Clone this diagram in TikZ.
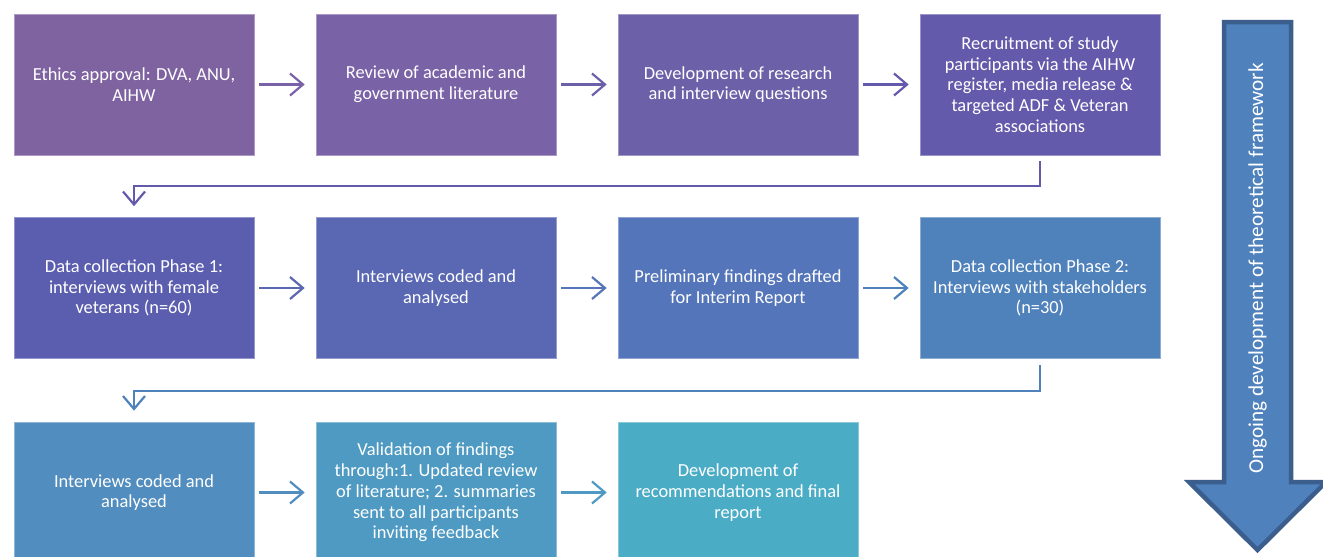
\documentclass[tikz,border=0pt]{standalone}
\usepackage{fontspec}
\setmainfont{Carlito}
\usetikzlibrary{arrows.meta}
\definecolor{cA}{HTML}{7F63A1}
\definecolor{cB}{HTML}{7A62A6}
\definecolor{cC}{HTML}{6C60A8}
\definecolor{cD}{HTML}{645AAB}
\definecolor{cE}{HTML}{5B5EAF}
\definecolor{cF}{HTML}{5A67B2}
\definecolor{cG}{HTML}{5475BA}
\definecolor{cH}{HTML}{4F81BB}
\definecolor{cI}{HTML}{518DBE}
\definecolor{cJ}{HTML}{4E9AC2}
\definecolor{cK}{HTML}{4BACC6}
\definecolor{bigfill}{HTML}{4F81BD}
\definecolor{bigline}{HTML}{3B5E8C}
\tikzset{
  stepbox/.style={rectangle, minimum width=240pt, minimum height=141pt, inner sep=0pt,
    text=white, align=center, font=\fontsize{18.4}{20.7}\selectfont, draw=white!35!#1, line width=0.6pt, fill=#1},
  conn/.style={draw=#1, line width=2.2pt, -{Straight Barb[length=13pt,width=22pt]}},
}
\begin{document}
\begin{tikzpicture}[x=1pt,y=-1pt]
\path[use as bounding box, clip] (0,0) rectangle (1323,557);
\fill[white] (0,0) rectangle (1323,557);
% row 1
\node[stepbox=cA] (b1) at (134,84.5) {Ethics approval: DVA, ANU,\\AIHW};
\node[stepbox=cB] (b2) at (436,84.5) {Review of academic and\\government literature};
\node[stepbox=cC] (b3) at (738,84.5) {Development of research\\and interview questions};
\node[stepbox=cD] (b4) at (1040,84.5) {Recruitment of study\\participants via the AIHW\\register, media release \&\\targeted ADF \& Veteran\\associations};
% row 2
\node[stepbox=cE] (b5) at (134,288) {Data collection Phase 1:\\interviews with female\\veterans (n=60)};
\node[stepbox=cF] (b6) at (436,288) {Interviews coded and\\analysed};
\node[stepbox=cG] (b7) at (738,288) {Preliminary findings drafted\\for Interim Report};
\node[stepbox=cH] (b8) at (1040,288) {Data collection Phase 2:\\Interviews with stakeholders\\(n=30)};
% row 3
\node[stepbox=cI] (b9) at (134,492.5) {Interviews coded and\\analysed};
\node[stepbox=cJ] (b10) at (436,492.5) {Validation of findings\\through:1. Updated review\\of literature; 2. summaries\\sent to all participants\\inviting feedback};
\node[stepbox=cK] (b11) at (738,492.5) {Development of\\recommendations and final\\report};
% horizontal arrows
\draw[conn=cB] ([xshift=5pt]b1.east) -- ([xshift=-11pt]b2.west);
\draw[conn=cC] ([xshift=5pt]b2.east) -- ([xshift=-11pt]b3.west);
\draw[conn=cD] ([xshift=5pt]b3.east) -- ([xshift=-11pt]b4.west);
\draw[conn=cF] ([xshift=5pt]b5.east) -- ([xshift=-11pt]b6.west);
\draw[conn=cG] ([xshift=5pt]b6.east) -- ([xshift=-11pt]b7.west);
\draw[conn=cH] ([xshift=5pt]b7.east) -- ([xshift=-11pt]b8.west);
\draw[conn=cI] ([xshift=5pt]b9.east) -- ([xshift=-11pt]b10.west);
\draw[conn=cJ] ([xshift=5pt]b10.east) -- ([xshift=-11pt]b11.west);
% row connectors
\draw[conn=cD] ([yshift=-6pt]b4.south) -- ([yshift=-31pt]b4.south) -| ([yshift=11pt]b5.north);
\draw[conn=cH] ([yshift=-6pt]b8.south) -- ([yshift=-32pt]b8.south) -| ([yshift=11pt]b9.north);
% big arrow
\path[fill=bigfill, draw=bigline, line width=4.5pt, line join=miter]
  (1224,22) coordinate (ba1) -- (1291,22) -- (1291,482) -- (1326,482) -- (1257.5,550) coordinate (tip)
  -- (1189,482) -- (1224,482) -- cycle;
\node[rotate=90, text=white, font=\fontsize{21.2}{24}\selectfont, inner sep=0pt] (lbl) at (1257.5,268.5) {Ongoing development of theoretical framework};
\end{tikzpicture}
\end{document}
